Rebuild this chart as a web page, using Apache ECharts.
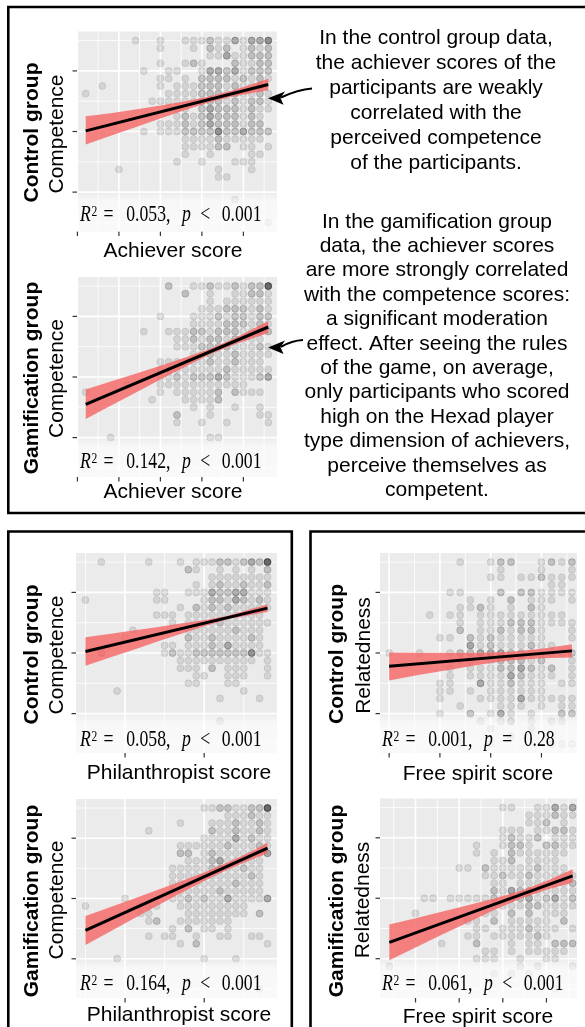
<!DOCTYPE html>
<html>
<head>
<meta charset="utf-8">
<script src="https://cdn.jsdelivr.net/npm/echarts@6/dist/echarts.min.js"></script>
<style>
html,body{margin:0;padding:0;background:#fff;}
#chart{width:585px;height:1027px;}
</style>
</head>
<body>
<div id="chart"></div>
<script>
// ---------------- DATA ----------------
// y grid (all panels)
const yMajor = [2, 4, 6];
const yMinor = [1, 3, 5, 7];
// x gridlines / ticks
const achieverMajor = [5, 10, 15, 20, 25];
const achieverMinor = [7.5, 12.5, 17.5, 22.5, 27.5];
const philMajor = [10, 20];
const philMinor = [5, 15, 25];
const fsCtrlMajor = [10, 15, 20, 25];
const fsCtrlMinor = [12.5, 17.5, 22.5, 27.5];
const fsGamiMajor = [10, 15, 20, 25];
const fsGamiMinor = [7.5, 12.5, 17.5, 22.5, 27.5];

// Scatter points: [y, overlap counts per x column starting at x0]
const ctrlAchieverX0 = 6;
const ctrlAchieverRows = [
  [7.00,"00000 01001 00111 21131 334"],
  [6.75,"00000 00001 00010 21201 212"],
  [6.50,"00000 00000 00000 11311 222"],
  [6.25,"00000 00001 00121 00021 122"],
  [6.00,"00000 00100 11001 33231 222"],
  [5.75,"00000 00001 10102 22212 121"],
  [5.50,"00100 00001 01112 22121 120"],
  [5.25,"10000 00000 11112 22121 121"],
  [5.00,"00000 00011 11112 22121 221"],
  [4.75,"00000 00000 11102 32221 211"],
  [4.50,"00000 00000 01212 32221 210"],
  [4.25,"00000 00001 11212 32221 220"],
  [4.00,"00000 00101 11222 24223 222"],
  [3.75,"00000 00000 00111 12111 110"],
  [3.50,"00000 00000 00111 12201 101"],
  [3.25,"00000 00000 00100 10000 110"],
  [3.00,"00000 00000 01001 00011 100"],
  [2.75,"00001 00000 00000 01000 100"],
  [2.50,"00000 00000 00000 01100 000"],
  [1.75,"00000 00000 00000 00010 000"],
  [1.00,"00000 00000 00000 00000 001"]
];
const gamiAchieverX0 = 6;
const gamiAchieverRows = [
  [7.00,"00000 00000 20011 21121 225"],
  [6.75,"00000 00000 00200 10011 221"],
  [6.50,"00000 00000 00000 10111 111"],
  [6.25,"00000 00000 00001 11222 121"],
  [6.00,"00000 00001 00011 12122 122"],
  [5.75,"00000 00000 00011 11222 121"],
  [5.50,"00000 00100 11122 12221 122"],
  [5.25,"00000 00000 01121 22121 110"],
  [5.00,"00000 00000 01112 22211 121"],
  [4.75,"00000 00000 00011 21121 111"],
  [4.50,"00000 00001 11111 21121 110"],
  [4.25,"00000 00001 11111 11211 111"],
  [4.00,"00000 00001 12122 23211 123"],
  [3.75,"00000 10001 11111 11111 000"],
  [3.50,"10000 00001 01111 12021 110"],
  [3.25,"00000 00010 00111 12000 000"],
  [3.00,"00000 00000 00010 10010 010"],
  [2.75,"00000 00000 02000 10000 011"],
  [2.50,"00000 00000 01001 00100 001"],
  [2.00,"00010 00000 00000 11000 000"]
];
const ctrlPhilX0 = 5;
const ctrlPhilRows = [
  [7.00,"00100 00010 00101 11221 2325"],
  [6.75,"00000 00000 00021 00101 0102"],
  [6.50,"00000 00000 00000 01111 1111"],
  [6.25,"00000 00000 00001 01211 2112"],
  [6.00,"00000 00001 10011 13223 3111"],
  [5.75,"10000 00001 10000 12213 2121"],
  [5.50,"00000 00000 00102 12121 1111"],
  [5.25,"00000 00001 11011 11111 1110"],
  [5.00,"00000 00000 01011 11211 1111"],
  [4.75,"00000 01000 00011 11112 1110"],
  [4.50,"00000 10000 00021 12111 1210"],
  [4.25,"00000 00000 11011 12131 1110"],
  [4.00,"00200 00000 12112 22222 2411"],
  [3.75,"00000 00000 00111 11111 1101"],
  [3.50,"00000 00000 00111 02011 1001"],
  [3.25,"00000 00000 00001 10011 1001"],
  [3.00,"00000 00000 00011 00011 0000"],
  [2.75,"00001 00000 00000 00000 1000"],
  [2.50,"00000 00000 00000 00100 0010"],
  [1.75,"00000 00000 00000 00100 0000"]
];
const ctrlFreeX0 = 10;
const ctrlFreeRows = [
  [7.00,"00000 00100 12200 1212"],
  [6.75,"00000 00000 01000 1001"],
  [6.50,"00000 00000 11011 2111"],
  [6.25,"00000 00000 00000 0110"],
  [6.00,"00000 01100 02022 1111"],
  [5.75,"00000 00010 10201 1101"],
  [5.50,"00000 00112 10102 1000"],
  [5.25,"00001 01101 11111 1110"],
  [5.00,"00000 00101 11222 1111"],
  [4.75,"00000 00201 12122 1001"],
  [4.50,"00000 11021 21111 1001"],
  [4.25,"00000 00031 21112 1100"],
  [4.00,"10010 01223 33221 1112"],
  [3.75,"00000 00110 12221 2001"],
  [3.50,"00000 01011 12232 1201"],
  [3.25,"00000 01011 11321 1101"],
  [3.00,"00000 11003 11211 1011"],
  [2.75,"00000 11010 11111 1000"],
  [2.50,"00000 10001 11131 1111"],
  [2.25,"00000 00100 01110 1011"],
  [2.00,"00000 10020 13101 0022"],
  [1.75,"00000 00001 01201 0110"],
  [1.50,"00000 00000 10001 0000"],
  [1.25,"00000 00100 00100 0000"],
  [1.00,"00000 00100 10000 0111"]
];
const gamiPhilX0 = 5;
const gamiPhilRows = [
  [7.00,"00000 00000 00000 11221 1225"],
  [6.75,"00000 00000 00000 00011 1211"],
  [6.50,"00000 00000 00100 01112 1121"],
  [6.25,"00000 00010 00000 02112 1121"],
  [6.00,"00000 00000 00000 11113 1211"],
  [5.75,"00000 00000 00111 11121 1121"],
  [5.50,"00000 00000 00220 12111 1113"],
  [5.25,"00000 00000 00011 12311 1110"],
  [5.00,"00000 00000 01111 12211 2110"],
  [4.75,"00000 00000 01111 11111 1210"],
  [4.50,"00000 00000 01111 11112 1110"],
  [4.25,"00000 00000 01111 11211 1110"],
  [4.00,"00000 10000 01121 21131 1113"],
  [3.75,"10000 00111 00111 11111 1000"],
  [3.50,"00000 00110 00011 11111 1020"],
  [3.25,"00000 00012 00111 11110 0000"],
  [3.00,"00000 00000 01020 11010 0000"],
  [2.75,"00000 00010 11001 00110 0110"],
  [2.50,"00000 00000 00102 00000 0001"],
  [2.00,"00001 00000 00000 10001 0000"],
  [1.00,"00000 00000 00000 00000 0010"]
];
const gamiFreeX0 = 7;
const gamiFreeRows = [
  [7.00,"00000 00000 00011 00113 13"],
  [6.75,"00000 00000 00000 01112 11"],
  [6.50,"00000 00000 00000 01120 10"],
  [6.25,"00000 00000 00011 10112 21"],
  [6.00,"00000 00000 00012 11201 11"],
  [5.75,"00000 00000 10012 21022 11"],
  [5.50,"00000 00000 10102 11111 10"],
  [5.25,"00000 00000 00112 01111 00"],
  [5.00,"00000 00011 02111 11211 10"],
  [4.75,"00000 00000 01121 12111 11"],
  [4.50,"00000 00000 00110 11111 12"],
  [4.25,"00000 00000 00213 22111 11"],
  [4.00,"00001 10111 11212 23123 12"],
  [3.75,"00000 00000 00111 12211 11"],
  [3.50,"00010 00000 01102 02011 10"],
  [3.25,"00000 00001 10201 11110 20"],
  [3.00,"00000 00000 11011 12111 01"],
  [2.75,"00000 00001 10111 11210 00"],
  [2.50,"00000 01000 20001 01102 22"],
  [2.25,"00000 00000 01101 01111 10"],
  [2.00,"00000 00000 11100 10011 00"],
  [1.75,"10000 00000 00000 10100 01"],
  [1.50,"00000 00000 00101 01000 00"],
  [1.00,"00000 00000 00000 00001 00"]
];

// Regression lines (end points)
const ctrlAchieverFit = [[6, 4.02], [28, 5.55]];
const gamiAchieverFit = [[6, 3.10], [28, 5.65]];
const ctrlPhilFit = [[5, 4.05], [28, 5.48]];
const ctrlFreeFit = [[10, 3.56], [28, 4.07]];
const gamiPhilFit = [[5, 2.94], [28, 5.67]];
const gamiFreeFit = [[7, 2.54], [28, 4.74]];

// Confidence bands [x, lower, upper]
const ctrlAchieverBand = [[6,3.57,4.50],[9,3.86,4.60],[12,4.14,4.73],[15,4.43,4.86],[18,4.71,5.00],[21,4.97,5.16],[24,5.17,5.38],[28,5.36,5.74]];
const gamiAchieverBand = [[6,2.61,3.59],[9,3.05,3.85],[12,3.48,4.11],[15,3.92,4.37],[18,4.34,4.64],[21,4.75,4.93],[24,5.08,5.29],[28,5.45,5.85]];
const ctrlPhilBand = [[5,3.58,4.52],[8,3.84,4.63],[11,4.10,4.74],[14,4.37,4.85],[17,4.63,4.97],[20,4.88,5.08],[23,5.11,5.23],[26,5.26,5.46],[28,5.35,5.60]];
const ctrlFreeBand = [[10,3.09,4.02],[13,3.28,4.01],[16,3.45,4.01],[19,3.62,4.01],[22,3.76,4.04],[25,3.83,4.14],[28,3.85,4.29]];
const gamiPhilBand = [[5,2.46,3.42],[8,2.89,3.70],[11,3.32,3.98],[14,3.75,4.27],[17,4.17,4.56],[20,4.58,4.86],[23,4.96,5.20],[26,5.29,5.57],[28,5.50,5.85]];
const gamiFreeBand = [[7,1.95,3.13],[10,2.37,3.34],[13,2.79,3.55],[16,3.20,3.77],[19,3.61,3.99],[22,3.98,4.24],[25,4.28,4.57],[28,4.52,4.96]];

// Statistics [R2, relation, p]
const ctrlAchieverStat = ['0.053', '<', '0.001'];
const gamiAchieverStat = ['0.142', '<', '0.001'];
const ctrlPhilStat = ['0.058', '<', '0.001'];
const ctrlFreeStat = ['0.001', '=', '0.28'];
const gamiPhilStat = ['0.164', '<', '0.001'];
const gamiFreeStat = ['0.061', '<', '0.001'];

// Texts
const groupLabels = ['Control group', 'Gamification group'];
const annotation1 = ['In the control group data,', 'the achiever scores of the', 'participants are weakly', 'correlated with the', 'perceived competence', 'of the participants.'];
const annotation2 = ['In the gamification group', 'data, the achiever scores', 'are more strongly correlated', 'with the competence scores:', 'a significant moderation', 'effect. After seeing the rules', 'of the game, on average,', 'only participants who scored', 'high on the Hexad player', 'type dimension of achievers,', 'perceive themselves as', 'competent.'];

// ---------------- LAYOUT ----------------
const Y_MIN = 0.7, Y_MAX = 7.3;
const SANS = '"Liberation Sans", Arial, Helvetica, sans-serif';
const SERIF = '"Liberation Serif", "Times New Roman", serif';
const ALPHA = [0, 0.13, 0.24, 0.36, 0.5, 0.7];

const panels = [
  {rows: ctrlAchieverRows, x0: ctrlAchieverX0, fit: ctrlAchieverFit, band: ctrlAchieverBand, stat: ctrlAchieverStat,
   xMajor: achieverMajor, xMinor: achieverMinor, xName: 'Achiever score', yName: 'Competence', group: groupLabels[0],
   grid: {left: 77, top: 31.5, width: 200, height: 200}, xMin: 4.95, xMax: 29.05,
   yNamePos: [57, 134], groupPos: [32, 132.5], xNamePos: [173, 251], statPos: [80, 215]},
  {rows: gamiAchieverRows, x0: gamiAchieverX0, fit: gamiAchieverFit, band: gamiAchieverBand, stat: gamiAchieverStat,
   xMajor: achieverMajor, xMinor: achieverMinor, xName: 'Achiever score', yName: 'Competence', group: groupLabels[1],
   grid: {left: 77, top: 277, width: 200, height: 200}, xMin: 4.95, xMax: 29.05,
   yNamePos: [57, 378.5], groupPos: [32, 378], xNamePos: [173, 492], statPos: [80, 461.5]},
  {rows: ctrlPhilRows, x0: ctrlPhilX0, fit: ctrlPhilFit, band: ctrlPhilBand, stat: ctrlPhilStat,
   xMajor: philMajor, xMinor: philMinor, xName: 'Philanthropist score', yName: 'Competence', group: groupLabels[0],
   grid: {left: 76, top: 553, width: 201, height: 200}, xMin: 3.8, xMax: 29.2,
   yNamePos: [57, 655], groupPos: [32, 654.5], xNamePos: [179, 773.5], statPos: [80, 739.5]},
  {rows: ctrlFreeRows, x0: ctrlFreeX0, fit: ctrlFreeFit, band: ctrlFreeBand, stat: ctrlFreeStat,
   xMajor: fsCtrlMajor, xMinor: fsCtrlMinor, xName: 'Free spirit score', yName: 'Relatedness', group: groupLabels[0],
   grid: {left: 380, top: 553, width: 197, height: 200}, xMin: 9.1, xMax: 28.5,
   yNamePos: [364, 655.5], groupPos: [337, 654], xNamePos: [478, 774.5], statPos: [382, 739.5]},
  {rows: gamiPhilRows, x0: gamiPhilX0, fit: gamiPhilFit, band: gamiPhilBand, stat: gamiPhilStat,
   xMajor: philMajor, xMinor: philMinor, xName: 'Philanthropist score', yName: 'Competence', group: groupLabels[1],
   grid: {left: 76, top: 799, width: 201, height: 199}, xMin: 3.8, xMax: 29.2,
   yNamePos: [57, 900], groupPos: [32, 901], xNamePos: [179, 1015.5], statPos: [80, 984]},
  {rows: gamiFreeRows, x0: gamiFreeX0, fit: gamiFreeFit, band: gamiFreeBand, stat: gamiFreeStat,
   xMajor: fsGamiMajor, xMinor: fsGamiMinor, xName: 'Free spirit score', yName: 'Relatedness', group: groupLabels[1],
   grid: {left: 380, top: 798.5, width: 197, height: 199.5}, xMin: 5.93, xMax: 28.5,
   yNamePos: [363.5, 900], groupPos: [337, 901], xNamePos: [478, 1017], statPos: [382, 984]}
];

const grids = [], xAxes = [], yAxes = [], series = [], graphics = [];

function textEl(str, x, y, opts) {
  opts = opts || {};
  return {
    type: 'text', x: x, y: y, rotation: opts.rotation || 0, z: 30, silent: true,
    style: {
      text: str, fill: '#000',
      font: (opts.bold ? 'bold ' : '') + (opts.size || 21) + 'px ' + SANS,
      align: 'center', verticalAlign: 'middle', textAlign: 'center', textVerticalAlign: 'middle',
      lineHeight: opts.lineHeight
    }
  };
}

panels.forEach(function (p, i) {
  grids.push({left: p.grid.left, top: p.grid.top, width: p.grid.width, height: p.grid.height,
    show: true, backgroundColor: '#ebebeb', borderWidth: 0, containLabel: false});
  xAxes.push({type: 'value', gridIndex: i, min: p.xMin, max: p.xMax, show: false});
  yAxes.push({type: 'value', gridIndex: i, min: Y_MIN, max: Y_MAX, show: false});

  // gridlines + ticks
  const gl = [];
  p.xMajor.forEach(function (v) { gl.push([v, 0]); });
  p.xMinor.forEach(function (v) { gl.push([v, 1]); });
  yMajor.forEach(function (v) { gl.push([v, 2]); });
  yMinor.forEach(function (v) { gl.push([v, 3]); });
  series.push({
    type: 'custom', xAxisIndex: i, yAxisIndex: i, z: 1, clip: false, silent: true, animation: false,
    encode: {x: 0, y: 1}, data: gl,
    renderItem: function (params, api) {
      const v = api.value(0), k = api.value(1);
      const cs = params.coordSys;
      const ch = [];
      if (k <= 1) {
        const x = api.coord([v, Y_MIN])[0];
        ch.push({type: 'line', shape: {x1: x, y1: cs.y, x2: x, y2: cs.y + cs.height},
          style: {stroke: '#ffffff', lineWidth: k === 0 ? 1.6 : 0.8}});
        if (k === 0) ch.push({type: 'line', shape: {x1: x, y1: cs.y + cs.height, x2: x, y2: cs.y + cs.height + 4.5},
          style: {stroke: '#333333', lineWidth: 1.2}});
      } else {
        const y = api.coord([p.xMin, v])[1];
        ch.push({type: 'line', shape: {x1: cs.x, y1: y, x2: cs.x + cs.width, y2: y},
          style: {stroke: '#ffffff', lineWidth: k === 2 ? 1.6 : 0.8}});
        if (k === 2) ch.push({type: 'line', shape: {x1: cs.x - 4.5, y1: y, x2: cs.x, y2: y},
          style: {stroke: '#333333', lineWidth: 1.2}});
      }
      return {type: 'group', children: ch};
    }
  });

  // scatter
  const pts = [];
  p.rows.forEach(function (r) {
    const d = r[1].replace(/\s/g, '');
    for (let j = 0; j < d.length; j++) {
      const n = +d[j];
      if (n > 0) {
        const a = ALPHA[n];
        pts.push({value: [p.x0 + j, r[0]], itemStyle: {
          color: 'rgba(0,0,0,' + a + ')', borderColor: 'rgba(0,0,0,' + Math.min(1, a * 1.1) + ')'}});
      }
    }
  });
  series.push({type: 'scatter', xAxisIndex: i, yAxisIndex: i, z: 2, symbolSize: 7, silent: true,
    itemStyle: {borderWidth: 0.8}, data: pts, animation: false});

  // confidence band
  series.push({
    type: 'custom', xAxisIndex: i, yAxisIndex: i, z: 3, clip: false, silent: true, animation: false,
    encode: {x: 0, y: 1}, data: p.band,
    renderItem: function (params, api) {
      if (params.dataIndex !== 0) return null;
      const up = p.band.map(function (b) { return api.coord([b[0], b[2]]); });
      const lo = p.band.map(function (b) { return api.coord([b[0], b[1]]); }).reverse();
      return {type: 'polygon', shape: {points: up.concat(lo)}, style: {fill: 'rgba(245,100,100,0.8)'}};
    }
  });

  // regression line
  series.push({type: 'line', xAxisIndex: i, yAxisIndex: i, z: 4, data: p.fit, symbol: 'none', silent: true,
    animation: false, lineStyle: {color: '#000', width: 3}});

  // white label strip at panel bottom
  const g = p.grid;
  const y2 = g.top + (Y_MAX - 2) / (Y_MAX - Y_MIN) * g.height + 1.5;
  graphics.push({type: 'rect', z: 20, silent: true,
    shape: {x: g.left, y: y2, width: g.width, height: g.top + g.height - y2},
    style: {fill: {type: 'linear', x: 0, y: 0, x2: 0, y2: 1, colorStops: [
      {offset: 0, color: 'rgba(255,255,255,0.15)'},
      {offset: 0.2, color: 'rgba(255,255,255,0.62)'},
      {offset: 1, color: 'rgba(255,255,255,0.72)'}]}}});

  // R^2 text
  const F = '23px ' + SERIF, FI = 'italic 23px ' + SERIF;
  graphics.push({type: 'text', x: p.statPos[0], y: p.statPos[1], scaleX: 0.77, z: 31, silent: true,
    style: {
      text: '{it|R}{sup|2}{op|=}{n|' + p.stat[0] + ',}{itp|p}{op2|' + p.stat[1] + '}{n|' + p.stat[2] + '}',
      align: 'left', verticalAlign: 'middle', textAlign: 'left', textVerticalAlign: 'middle',
      font: F, fill: '#000',
      rich: {
        it: {font: FI, lineHeight: 24, fill: '#000'},
        sup: {font: '15px ' + SERIF, lineHeight: 15, verticalAlign: 'top', padding: [2, 0, 0, 1], fill: '#000'},
        op: {font: F, lineHeight: 24, padding: [0, 16.5, 0, 8], fill: '#000'},
        n: {font: F, lineHeight: 24, fill: '#000'},
        itp: {font: FI, lineHeight: 24, padding: [0, 12.2, 0, 14.8], fill: '#000'},
        op2: {font: F, lineHeight: 24, padding: [0, 15, 0, 0], fill: '#000'}
      }
    }});

  // axis titles / group labels
  graphics.push(textEl(p.yName, p.yNamePos[0], p.yNamePos[1], {rotation: Math.PI / 2}));
  graphics.push(textEl(p.group, p.groupPos[0], p.groupPos[1], {rotation: Math.PI / 2, bold: true}));
  graphics.push(textEl(p.xName, p.xNamePos[0], p.xNamePos[1]));
});

// annotation text blocks
graphics.push(textEl(annotation1.join('\n'), 436, 101, {lineHeight: 25}));
graphics.push(textEl(annotation2.join('\n'), 437, 356, {lineHeight: 24.4}));

// arrows
graphics.push({type: 'bezierCurve', z: 30, silent: true,
  shape: {x1: 312, y1: 88.5, cpx1: 298, cpy1: 89.5, x2: 281, y2: 97.5},
  style: {stroke: '#000', lineWidth: 2, fill: null}});
graphics.push({type: 'polygon', z: 30, silent: true,
  shape: {points: [[268, 98.3], [285, 91.5], [280.5, 98], [283.5, 104.8]]}, style: {fill: '#000'}});
graphics.push({type: 'bezierCurve', z: 30, silent: true,
  shape: {x1: 303, y1: 340, cpx1: 292, cpy1: 340.5, x2: 281, y2: 346.8},
  style: {stroke: '#000', lineWidth: 2, fill: null}});
graphics.push({type: 'polygon', z: 30, silent: true,
  shape: {points: [[268, 347.5], [285, 340.5], [280.5, 347.2], [283.5, 354]]}, style: {fill: '#000'}});

// frames
const frameStyle = {stroke: '#000', lineWidth: 2.6, fill: null};
graphics.push({type: 'rect', z: 40, silent: true, shape: {x: 8.3, y: 7, width: 600, height: 506}, style: frameStyle});
graphics.push({type: 'rect', z: 40, silent: true, shape: {x: 8.3, y: 531.5, width: 283.5, height: 520}, style: frameStyle});
graphics.push({type: 'rect', z: 40, silent: true, shape: {x: 310.5, y: 531.5, width: 300, height: 520}, style: frameStyle});

const chart = echarts.init(document.getElementById('chart'), null, {renderer: 'canvas'});
chart.setOption({
  animation: false,
  backgroundColor: '#ffffff',
  grid: grids,
  xAxis: xAxes,
  yAxis: yAxes,
  series: series,
  graphic: {elements: graphics}
});
</script>
</body>
</html>
